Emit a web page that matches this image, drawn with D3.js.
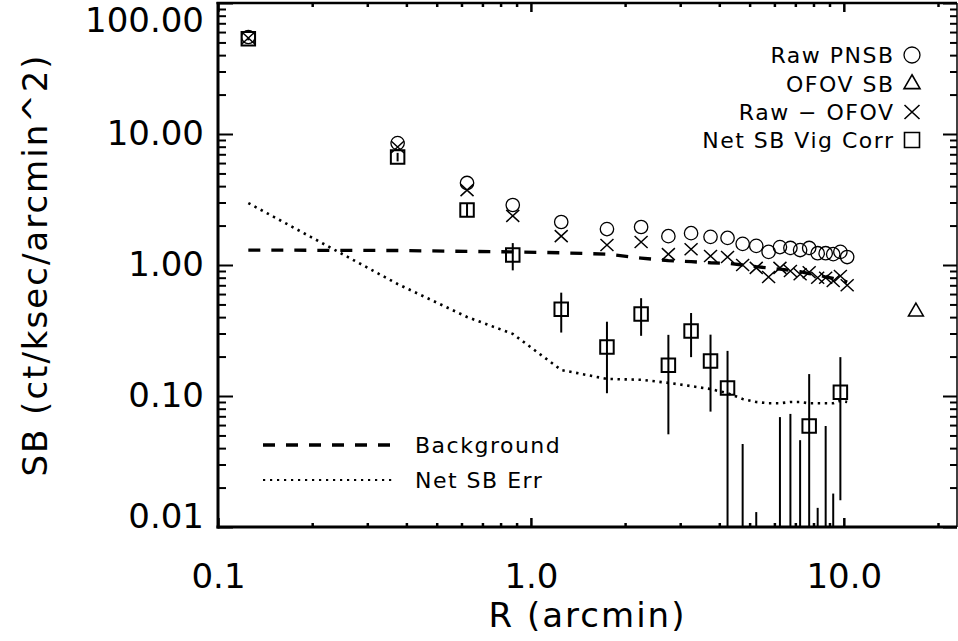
<!DOCTYPE html>
<html>
<head>
<meta charset="utf-8">
<script src="https://cdn.jsdelivr.net/npm/d3@7"></script>
<style>
  body { margin: 0; background: #fff; }
  svg { display: block; }
  text { font-family: "DejaVu Sans", sans-serif; fill: #000; }
</style>
</head>
<body>
<svg id="chart" width="958" height="641"></svg>
<script>
// Radial bin centres (arcmin)
const radius = [0.125, 0.375, 0.625, 0.875, 1.25, 1.75, 2.25, 2.75, 3.25, 3.75, 4.25,
                4.75, 5.25, 5.75, 6.25, 6.75, 7.25, 7.75, 8.25, 8.75, 9.25, 9.75, 10.25];

// Raw PN surface brightness
const rawPnsb = [55.0, 8.52, 4.23, 2.87, 2.13, 1.88, 1.95, 1.66, 1.75, 1.64, 1.61,
                 1.45, 1.40, 1.26, 1.37, 1.35, 1.30, 1.35, 1.23, 1.23, 1.21, 1.26, 1.15];

// Raw minus out-of-FOV
const rawMinusOfov = [54.0, 7.95, 3.73, 2.37, 1.66, 1.42, 1.50, 1.21, 1.32, 1.17, 1.15,
                      1.00, 0.95, 0.81, 0.95, 0.90, 0.85, 0.88, 0.80, 0.80, 0.755, 0.824, 0.70];

// Net SB, vignetting corrected, and its 1-sigma error
const netVigCorr = [53.4, 6.68, 2.63, 1.19, 0.46, 0.237, 0.423, 0.172, 0.314, 0.185, 0.115,
                    -0.03, -0.06, -0.25, -0.01, -0.005, -0.035, 0.059, -0.075, -0.035, -0.08, 0.107, -0.20];
const netVigErr = [1.5, 0.5, 0.3, 0.28, 0.155, 0.132, 0.135, 0.121, 0.116, 0.109, 0.106,
                   0.073, 0.073, 0.08, 0.079, 0.078, 0.081, 0.088, 0.089, 0.094, 0.098, 0.091, 0.10];

// Background level
const background = [1.30, 1.29, 1.27, 1.26, 1.24, 1.21, 1.13, 1.08, 1.06, 1.04, 1.03,
                    1.00, 0.97, 0.95, 0.93, 0.91, 0.89, 0.86, 0.84, 0.81, 0.79, 0.77, 0.74];

// Net SB error curve
const netSbErr = [2.97, 0.716, 0.401, 0.298, 0.158, 0.135, 0.133, 0.126, 0.119, 0.113, 0.105,
                  0.095, 0.090, 0.088, 0.088, 0.090, 0.090, 0.088, 0.088, 0.088, 0.088, 0.092, 0.090];

// Out-of-FOV SB
const ofovRadius = [17.0];
const ofovSb = [0.44];

const xTickValues = [0.1, 1, 10];
const xTickLabels = ["0.1", "1.0", "10.0"];
const yTickValues = [0.01, 0.1, 1, 10, 100];
const yTickLabels = ["0.01", "0.10", "1.00", "10.00", "100.00"];

const svg = d3.select("#chart");
const L = 218, Rt = 957, T = 3, B = 527;

const x = d3.scaleLog().domain([0.1, 23]).range([L, Rt]);
const y = d3.scaleLog().domain([0.01, 100]).range([B, T]);

const minorX = x.ticks().filter(v => !xTickValues.some(m => Math.abs(m - v) / m < 1e-6));
const minorY = y.ticks().filter(v => !yTickValues.some(m => Math.abs(m - v) / m < 1e-6));

function styleAxis(g, w) {
  g.select(".domain").remove();
  g.selectAll(".tick line").attr("stroke", "#000").attr("stroke-width", w);
}

// ---- axes: ticks point inward on all four sides ----
const axes = svg.append("g");

// bottom
axes.append("g").attr("transform", `translate(0,${B})`)
  .call(d3.axisBottom(x).tickValues(minorX).tickSizeInner(-4).tickSizeOuter(0).tickFormat(""))
  .call(g => styleAxis(g, 2.5));
const xMajor = axes.append("g").attr("transform", `translate(0,${B})`)
  .call(d3.axisBottom(x).tickValues(xTickValues).tickSizeInner(-9).tickSizeOuter(0)
        .tickPadding(37).tickFormat((d, i) => xTickLabels[i]))
  .call(g => styleAxis(g, 2.5));
xMajor.selectAll("text").attr("font-size", 34).attr("font-family", "DejaVu Sans").attr("fill", "#000");

// top
axes.append("g").attr("transform", `translate(0,${T})`)
  .call(d3.axisTop(x).tickValues(minorX).tickSizeInner(-4).tickSizeOuter(0).tickFormat(""))
  .call(g => styleAxis(g, 2.5));
axes.append("g").attr("transform", `translate(0,${T})`)
  .call(d3.axisTop(x).tickValues(xTickValues).tickSizeInner(-9).tickSizeOuter(0).tickFormat(""))
  .call(g => styleAxis(g, 2.5));

// left
axes.append("g").attr("transform", `translate(${L},0)`)
  .call(d3.axisLeft(y).tickValues(minorY).tickSizeInner(-8).tickSizeOuter(0).tickFormat(""))
  .call(g => styleAxis(g, 2));
const yMajor = axes.append("g").attr("transform", `translate(${L},0)`)
  .call(d3.axisLeft(y).tickValues(yTickValues).tickSizeInner(-15).tickSizeOuter(0)
        .tickPadding(14).tickFormat((d, i) => yTickLabels[i]))
  .call(g => styleAxis(g, 2));
yMajor.selectAll("text").attr("font-size", 34).attr("font-family", "DejaVu Sans").attr("fill", "#000");
// keep the end labels inside the frame height
yMajor.selectAll(".tick").filter(d => d === 100).select("text").attr("y", 18);
yMajor.selectAll(".tick").filter(d => d === 0.01).select("text").attr("y", -10);

// right
axes.append("g").attr("transform", `translate(${Rt},0)`)
  .call(d3.axisRight(y).tickValues(minorY).tickSizeInner(-7).tickSizeOuter(0).tickFormat(""))
  .call(g => styleAxis(g, 2));
axes.append("g").attr("transform", `translate(${Rt},0)`)
  .call(d3.axisRight(y).tickValues(yTickValues).tickSizeInner(-14).tickSizeOuter(0).tickFormat(""))
  .call(g => styleAxis(g, 2));

// frame
axes.append("line").attr("x1", L).attr("x2", L).attr("y1", T - 1).attr("y2", B + 1.5)
  .attr("stroke", "#000").attr("stroke-width", 3);
axes.append("line").attr("x1", L - 1.5).attr("x2", Rt).attr("y1", B).attr("y2", B)
  .attr("stroke", "#000").attr("stroke-width", 3);
axes.append("line").attr("x1", L - 1.5).attr("x2", Rt).attr("y1", T).attr("y2", T)
  .attr("stroke", "#000").attr("stroke-width", 2.5);
axes.append("line").attr("x1", Rt).attr("x2", Rt).attr("y1", T).attr("y2", B)
  .attr("stroke", "#000").attr("stroke-width", 1.5);

// axis titles
svg.append("text").attr("x", (L + Rt) / 2).attr("y", 627).attr("text-anchor", "middle")
  .attr("font-size", 34).attr("letter-spacing", 2).text("R (arcmin)");
svg.append("text").attr("transform", `translate(47,${(T + B) / 2}) rotate(-90)`)
  .attr("text-anchor", "middle").attr("font-size", 34).attr("letter-spacing", 2)
  .text("SB (ct/ksec/arcmin^2)");

// ---- data ----
svg.append("clipPath").attr("id", "plotClip")
  .append("rect").attr("x", L).attr("y", T).attr("width", Rt - L).attr("height", B - T);
const plot = svg.append("g").attr("clip-path", "url(#plotClip)");

const pts = radius.map((r, i) => ({
  r, raw: rawPnsb[i], sub: rawMinusOfov[i], net: netVigCorr[i], err: netVigErr[i],
  bkg: background[i], nerr: netSbErr[i]
}));

// background and net-error curves
plot.append("path").datum(pts)
  .attr("d", d3.line().x(d => x(d.r)).y(d => y(d.bkg)))
  .attr("fill", "none").attr("stroke", "#000").attr("stroke-width", 3.3)
  .attr("stroke-dasharray", "12,11");
plot.append("path").datum(pts)
  .attr("d", d3.line().x(d => x(d.r)).y(d => y(d.nerr)))
  .attr("fill", "none").attr("stroke", "#000").attr("stroke-width", 2.6)
  .attr("stroke-dasharray", "2.4,4.6");

// symbol paths
const circlePath = r => `M${r},0A${r},${r} 0 1,1 ${-r},0A${r},${r} 0 1,1 ${r},0Z`;
const squarePath = s => `M${-s / 2},${-s / 2}h${s}v${s}h${-s}Z`;
const crossPath = (w, h) => `M${-w / 2},${-h / 2}L${w / 2},${h / 2}M${w / 2},${-h / 2}L${-w / 2},${h / 2}`;
const trianglePath = s => {
  const h = s * Math.sqrt(3) / 2;
  return `M0,${-2 * h / 3}L${s / 2},${h / 3}L${-s / 2},${h / 3}Z`;
};

// raw PNSB circles
plot.selectAll(".raw").data(pts).join("path").attr("class", "raw")
  .attr("transform", d => `translate(${x(d.r)},${y(d.raw)})`)
  .attr("d", circlePath(6.7)).attr("fill", "none").attr("stroke", "#000").attr("stroke-width", 1.3);

// raw minus OFOV crosses
plot.selectAll(".sub").data(pts).join("path").attr("class", "sub")
  .attr("transform", d => `translate(${x(d.r)},${y(d.sub)})`)
  .attr("d", crossPath(13, 12)).attr("fill", "none").attr("stroke", "#000").attr("stroke-width", 1.5);

// OFOV triangle
plot.selectAll(".ofov").data(ofovRadius.map((r, i) => ({ r, v: ofovSb[i] }))).join("path")
  .attr("class", "ofov")
  .attr("transform", d => `translate(${x(d.r)},${y(d.v)})`)
  .attr("d", trianglePath(15)).attr("fill", "none").attr("stroke", "#000").attr("stroke-width", 1.5);

// net SB error bars
plot.selectAll(".ebar").data(pts.filter(d => d.net + d.err > 0)).join("line").attr("class", "ebar")
  .attr("x1", d => x(d.r)).attr("x2", d => x(d.r))
  .attr("y1", d => y(d.net + d.err))
  .attr("y2", d => (d.net - d.err > 0 ? y(d.net - d.err) : B + 5))
  .attr("stroke", "#000").attr("stroke-width", 2);

// net SB squares
plot.selectAll(".net").data(pts.filter(d => d.net > 0)).join("path").attr("class", "net")
  .attr("transform", d => `translate(${x(d.r)},${y(d.net)})`)
  .attr("d", squarePath(13.5)).attr("fill", "none").attr("stroke", "#000").attr("stroke-width", 2);

// ---- legends ----
const legend = svg.append("g");
const symLegend = [
  { label: "Raw PNSB", d: circlePath(8), w: 1.3, cy: 55 },
  { label: "OFOV SB", d: trianglePath(16), w: 1.6, cy: 84 },
  { label: "Raw \u2212 OFOV", d: crossPath(15, 14), w: 1.6, cy: 112 },
  { label: "Net SB Vig Corr", d: squarePath(15), w: 1.6, cy: 140 }
];
symLegend.forEach(s => {
  legend.append("text").attr("x", 894.5).attr("y", s.cy + 8).attr("text-anchor", "end")
    .attr("font-size", 22).attr("letter-spacing", 1.5).text(s.label);
  legend.append("path").attr("transform", `translate(912,${s.cy})`).attr("d", s.d)
    .attr("fill", "none").attr("stroke", "#000").attr("stroke-width", s.w);
});

const lineLegend = [
  { label: "Background", cy: 445, w: 3.3, dash: "12,11", x2: 392 },
  { label: "Net SB Err", cy: 480, w: 2.2, dash: "2.2,4.8", x2: 396 }
];
lineLegend.forEach(s => {
  legend.append("line").attr("x1", 263).attr("x2", s.x2).attr("y1", s.cy).attr("y2", s.cy)
    .attr("stroke", "#000").attr("stroke-width", s.w).attr("stroke-dasharray", s.dash);
  legend.append("text").attr("x", 415).attr("y", s.cy + 8)
    .attr("font-size", 22).attr("letter-spacing", 1.5).text(s.label);
});
</script>
</body>
</html>
